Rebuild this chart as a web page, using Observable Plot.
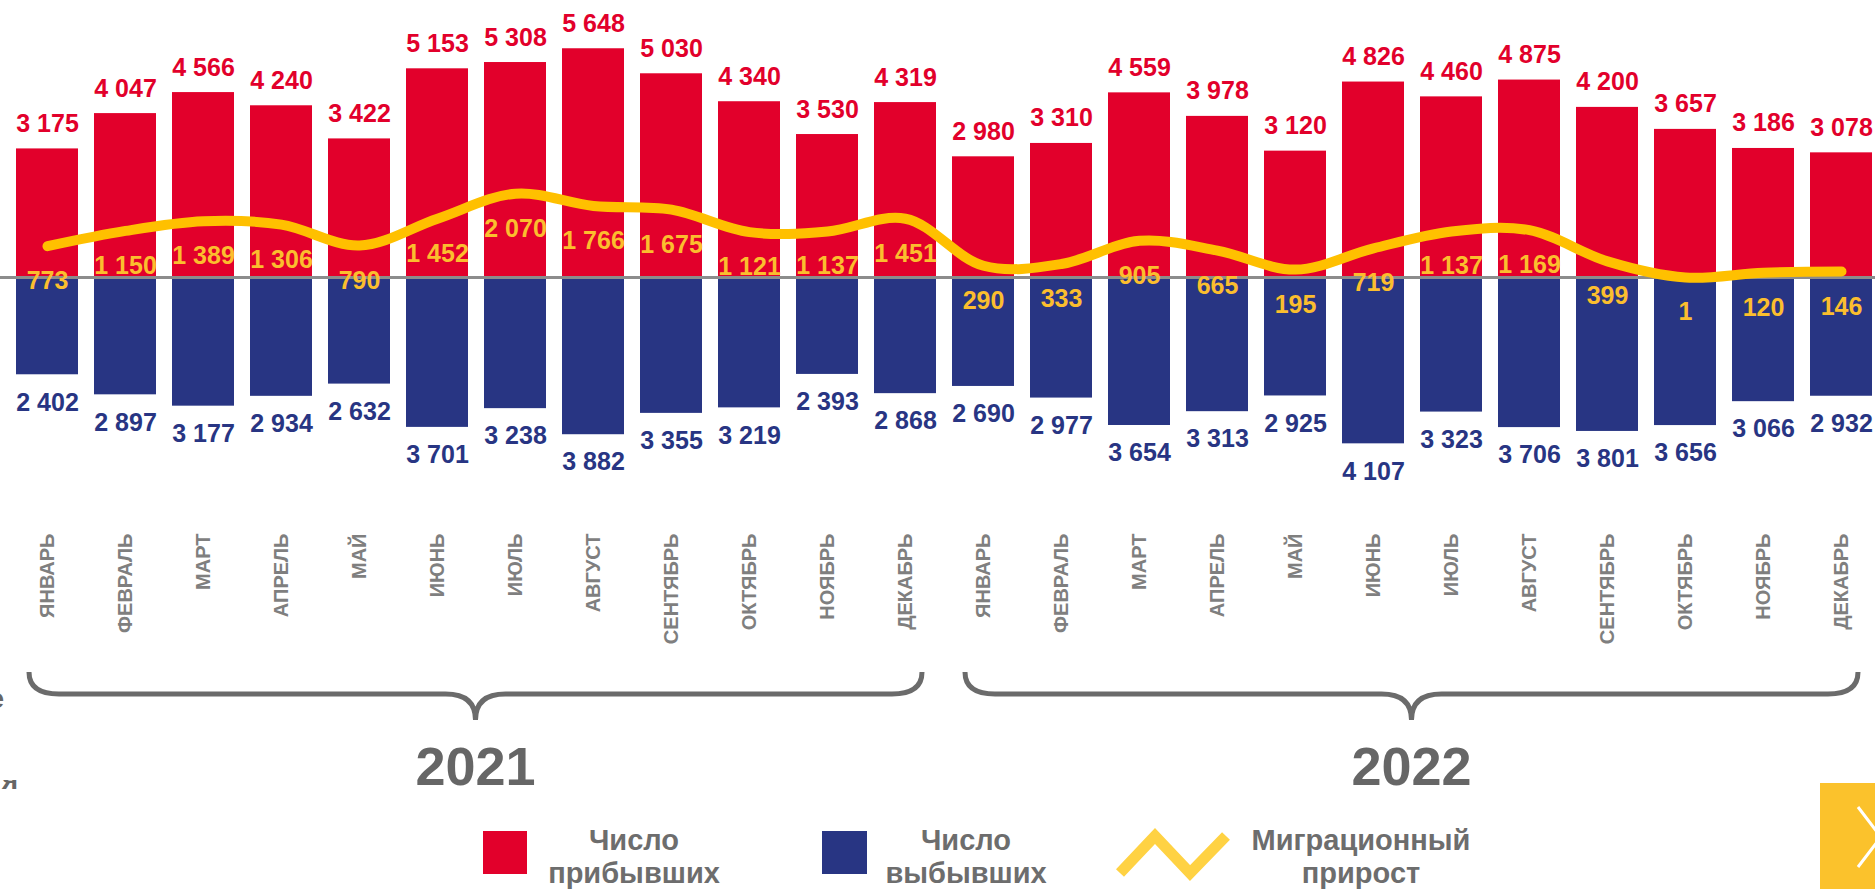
<!DOCTYPE html>
<html lang="ru">
<head>
<meta charset="utf-8">
<script src="https://cdn.jsdelivr.net/npm/d3@7"></script>
<script src="https://cdn.jsdelivr.net/npm/@observablehq/plot@0.6"></script>
<style>
  html, body { margin: 0; padding: 0; background: #ffffff; }
  #wrap { position: relative; width: 1875px; height: 889px; overflow: hidden; font-family: "Liberation Sans", Arial, sans-serif; }
  #chart svg { display: block; }
  #legend { position: absolute; left: 0; top: 780px; }
</style>
</head>
<body>
<div id="wrap">
  <div id="chart"></div>
  <svg id="legend" width="1875" height="109"></svg>
</div>
<script>
// ---- data ----
const years = [2021, 2022];
const months = ["ЯНВАРЬ", "ФЕВРАЛЬ", "МАРТ", "АПРЕЛЬ", "МАЙ", "ИЮНЬ", "ИЮЛЬ", "АВГУСТ", "СЕНТЯБРЬ", "ОКТЯБРЬ", "НОЯБРЬ", "ДЕКАБРЬ"];
const arrivals2021 = [3175, 4047, 4566, 4240, 3422, 5153, 5308, 5648, 5030, 4340, 3530, 4319];
const arrivals2022 = [2980, 3310, 4559, 3978, 3120, 4826, 4460, 4875, 4200, 3657, 3186, 3078];
const departures2021 = [2402, 2897, 3177, 2934, 2632, 3701, 3238, 3882, 3355, 3219, 2393, 2868];
const departures2022 = [2690, 2977, 3654, 3313, 2925, 4107, 3323, 3706, 3801, 3656, 3066, 2932];
const net2021 = [773, 1150, 1389, 1306, 790, 1452, 2070, 1766, 1675, 1121, 1137, 1451];
const net2022 = [290, 333, 905, 665, 195, 719, 1137, 1169, 399, 1, 120, 146];
const legendLabels = [["Число", "прибывших"], ["Число", "выбывших"], ["Миграционный", "прирост"]];

// ---- table ----
const arrivals = {2021: arrivals2021, 2022: arrivals2022};
const departures = {2021: departures2021, 2022: departures2022};
const net = {2021: net2021, 2022: net2022};
const data = [];
years.forEach(yr => months.forEach((m, i) => data.push({
  key: `${yr}-${i + 1}`, month: m, year: yr,
  arr: arrivals[yr][i], dep: departures[yr][i], net: net[yr][i]
})));
const keys = data.map(d => d.key);
const monthOf = Object.fromEntries(data.map(d => [d.key, d.month]));

const fmt = d3.formatLocale({decimal: ",", thousands: " ", grouping: [3], currency: ["", ""]}).format(",d");

const RED = "#E2002B", NAVY = "#283583", GOLD = "#FFC000", GOLDTXT = "#FBBE2E", GREY = "#6b6b6b";
const FONT = "'Liberation Sans', Arial, Helvetica, sans-serif";

const plot = Plot.plot({
  width: 1875, height: 800,
  marginTop: 0, marginBottom: 267, marginLeft: 0, marginRight: 0,
  style: {fontFamily: FONT, background: "transparent", overflow: "visible"},
  x: {domain: keys, range: [14, 1875], paddingInner: 0.2, paddingOuter: 0, align: 0.5},
  y: {domain: [-5000, 6000], range: [479.5, 34], axis: null},
  marks: [
    Plot.barY(data, {x: "key", y: "arr", fill: RED}),
    Plot.barY(data, {x: "key", y: d => -d.dep, fill: NAVY}),
    Plot.ruleY([0], {stroke: "#8c8c8c", strokeWidth: 3}),
    Plot.line(data, {x: "key", y: "net", stroke: GOLD, strokeWidth: 10, curve: "catmull-rom", strokeLinecap: "round", strokeLinejoin: "round"}),
    Plot.text(data, {x: "key", y: "arr", text: d => fmt(d.arr), lineAnchor: "bottom", dy: -17, fill: RED, fontSize: 25, fontWeight: "bold"}),
    Plot.text(data, {x: "key", y: d => -d.dep, text: d => fmt(d.dep), lineAnchor: "top", dy: 18, fill: NAVY, fontSize: 25, fontWeight: "bold"}),
    Plot.text(data, {x: "key", y: "net", text: d => fmt(d.net), dy: 35, fill: GOLDTXT, fontSize: 25, fontWeight: "bold"}),
    Plot.axisX({tickFormat: k => monthOf[k], tickRotate: -90, tickSize: 0, tickPadding: 0, fontSize: 20, fontWeight: "bold", fill: "#7f7f7f", label: null})
  ]
});
document.getElementById("chart").append(plot);

// ---- braces and year labels (from the x scale) ----
const xs = plot.scale("x");
const bw = xs.bandwidth;
const svg = d3.select(plot);
years.forEach(yr => {
  const ks = keys.filter(k => k.startsWith(yr + "-"));
  const x0 = xs.apply(ks[0]) + 13;
  const x1 = xs.apply(ks[ks.length - 1]) + bw - 14;
  const mid = (x0 + x1) / 2;
  const yT = 672, yH = 694, yP = 720, r = 30;
  const p = `M${x0},${yT} Q${x0},${yH} ${x0 + r},${yH} L${mid - r},${yH} Q${mid},${yH} ${mid},${yP} Q${mid},${yH} ${mid + r},${yH} L${x1 - r},${yH} Q${x1},${yH} ${x1},${yT}`;
  svg.append("path").attr("d", p).attr("fill", "none").attr("stroke", GREY).attr("stroke-width", 5).attr("stroke-linecap", "butt");
  svg.append("text").attr("x", mid).attr("y", 785).attr("text-anchor", "middle")
    .attr("font-family", FONT).attr("font-weight", "bold").attr("font-size", 54).attr("fill", "#666666").text(yr);
});
// cropped fragment of neighbouring text at left edge
svg.append("text").attr("x", 4).attr("y", 708).attr("text-anchor", "end")
  .attr("font-family", FONT).attr("font-weight", "bold").attr("font-size", 28).attr("fill", "#666666").text("е");

// ---- legend (below the chart) ----
const lg = d3.select("#legend");
const off = 780;
lg.append("rect").attr("x", 483).attr("y", 831 - off).attr("width", 44).attr("height", 43).attr("fill", RED);
lg.append("rect").attr("x", 822).attr("y", 831 - off).attr("width", 45).attr("height", 43).attr("fill", NAVY);
lg.append("polyline").attr("points", [[1120, 873], [1155, 836], [1190, 873], [1226, 836]].map(p => [p[0], p[1] - off].join(",")).join(" "))
  .attr("fill", "none").attr("stroke", "#FFD243").attr("stroke-width", 11).attr("stroke-linejoin", "miter");
const centers = [634, 966, 1361];
legendLabels.forEach((lines, i) => {
  const t = lg.append("text").attr("text-anchor", "middle").attr("font-family", FONT)
    .attr("font-weight", "bold").attr("font-size", 29).attr("fill", "#6d6d6d");
  lines.forEach((s, j) => t.append("tspan").attr("x", centers[i]).attr("y", (j === 0 ? 850 : 883) - off).text(s));
});
lg.append("text").attr("x", 18).attr("y", 789 - off).attr("text-anchor", "end")
  .attr("font-family", FONT).attr("font-weight", "bold").attr("font-size", 28).attr("fill", "#666666").text("я");
// navigation button fragment at bottom right
lg.append("rect").attr("x", 1820).attr("y", 783 - off).attr("width", 60).attr("height", 110).attr("fill", "#FBC22C");
lg.append("polyline").attr("points", [[1858, 807], [1881, 837], [1858, 867]].map(p => [p[0], p[1] - off].join(",")).join(" "))
  .attr("fill", "none").attr("stroke", "#ffffff").attr("stroke-width", 3);
</script>
</body>
</html>
